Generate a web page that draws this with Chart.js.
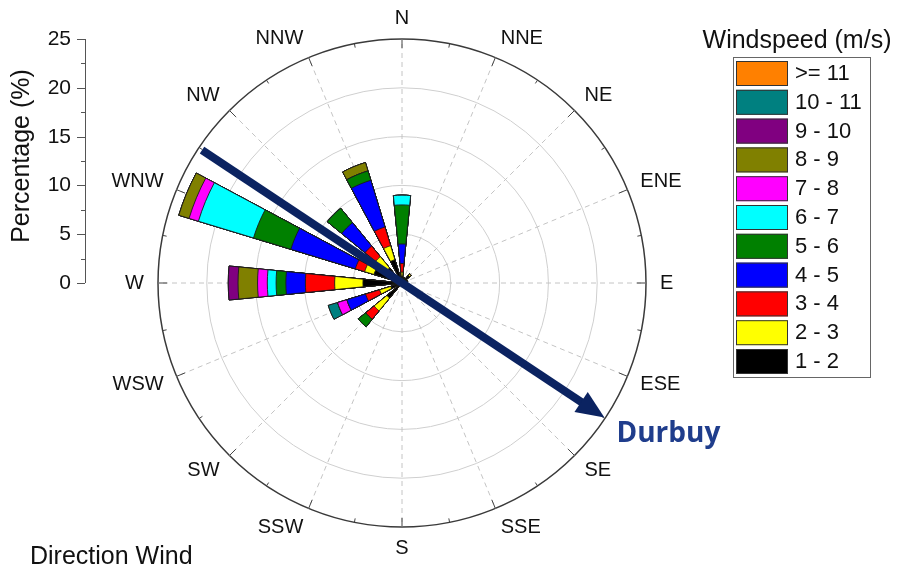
<!DOCTYPE html>
<html>
<head>
<meta charset="utf-8">
<title>Wind rose - Durbuy</title>
<script src="https://cdn.jsdelivr.net/npm/chart.js@4.4.1/dist/chart.umd.min.js"></script>
<style>
  html, body { margin: 0; padding: 0; background: #fff; }
  #wrap { position: relative; width: 903px; height: 571px; }
</style>
</head>
<body>
<div id="wrap"><canvas id="rose" width="903" height="571"></canvas></div>
<script>
const directions = ['N', 'NNE', 'NE', 'ENE', 'E', 'ESE', 'SE', 'SSE', 'S', 'SSW', 'SW', 'WSW', 'W', 'WNW', 'NW', 'NNW'];
const speedLabels = ['1 - 2', '2 - 3', '3 - 4', '4 - 5', '5 - 6', '6 - 7', '7 - 8', '8 - 9', '9 - 10', '10 - 11', '>= 11'];
const speedColors = ['#000000', '#FFFF00', '#FF0000', '#0000FF', '#008000', '#00FFFF', '#FF00FF', '#808000', '#800080', '#008080', '#FF8000'];
const radialTicks = [0, 5, 10, 15, 20, 25];

// frequency (%) per direction for each wind speed class
//                 N    NNE  NE   ENE  E    ESE  SE   SSE  S    SSW  SW   WSW  W    WNW  NW   NNW
const ws1to2   = [0.7, 0.6, 1.0, 0.6, 0,   0,   0,   0,   0,   0,   2.0, 1.2, 4.0, 3.0, 2.0, 2.5];
const ws2to3   = [0.4, 0,   0.2, 0,   0,   0,   0,   0,   0,   0,   1.7, 1.2, 2.9, 1.0, 1.5, 1.5];
const ws3to4   = [0.9, 0,   0,   0,   0,   0,   0,   0,   0,   0,   1.1, 1.5, 3.0, 1.0, 1.4, 2.0];
const ws4to5   = [2.0, 0,   0,   0,   0,   0,   0,   0,   0,   0,   0,   2.0, 2.0, 6.9, 3.1, 5.0];
const ws5to6   = [4.0, 0,   0,   0,   0,   0,   0,   0,   0,   0,   1.0, 0,   1.0, 4.0, 1.9, 1.0];
const ws6to7   = [1.0, 0,   0,   0,   0,   0,   0,   0,   0,   0,   0,   0,   0.9, 5.9, 0,   0];
const ws7to8   = [0,   0,   0,   0,   0,   0,   0,   0,   0,   0,   0,   1.0, 1.0, 1.0, 0,   0];
const ws8to9   = [0,   0,   0,   0,   0,   0,   0,   0,   0,   0,   0,   0,   2.0, 1.1, 0,   0.9];
const ws9to10  = [0,   0,   0,   0,   0,   0,   0,   0,   0,   0,   0,   0,   1.0, 0,   0,   0];
const ws10to11 = [0,   0,   0,   0,   0,   0,   0,   0,   0,   0,   0,   1.0, 0,   0,   0,   0];
const ws11plus = [0,   0,   0,   0,   0,   0,   0,   0,   0,   0,   0,   0,   0,   0,   0,   0];

// site direction marker (bearing in degrees, extent in % on each side)
const siteName = 'Durbuy';
const siteBearing = 123.6;
const siteTail = 24.6;
const siteHead = 24.9;

const speedSeries = [ws1to2, ws2to3, ws3to4, ws4to5, ws5to6, ws6to7, ws7to8, ws8to9, ws9to10, ws10to11, ws11plus];

// each direction gets a wedge followed by an empty slot of the same width
const slotLabels = directions.flatMap(d => [d, '']);
const cumulative = speedSeries.map((_, k) => directions.flatMap((d, i) => {
    let total = 0;
    for (let j = 0; j <= k; j++) total += speedSeries[j][i];
    return [Math.round(total * 100) / 100, 0];
}));

const FONT = '"Liberation Sans", Arial, sans-serif';
const slotAngle = 360 / slotLabels.length;

// bearing (deg, clockwise from north) + distance (px) -> canvas point
const polarPoint = (r, bearing, dist) => {
    const a = bearing * Math.PI / 180;
    return { x: r.xCenter + Math.sin(a) * dist, y: r.yCenter - Math.cos(a) * dist };
};

const roseDecor = {
    id: 'roseDecor',
    beforeDatasetsDraw(chart) {
        const { ctx } = chart;
        const r = chart.scales.r;
        const R = r.getDistanceFromCenterForValue(r.max);
        ctx.save();
        // dashed spokes
        ctx.strokeStyle = '#c4c4c4';
        ctx.lineWidth = 1;
        ctx.setLineDash([5, 4]);
        directions.forEach((d, i) => {
            const p = polarPoint(r, i * 22.5, R);
            ctx.beginPath();
            ctx.moveTo(r.xCenter, r.yCenter);
            ctx.lineTo(p.x, p.y);
            ctx.stroke();
        });
        ctx.setLineDash([]);
        // ticks on the outer ring
        ctx.strokeStyle = '#444';
        for (let i = 0; i < 32; i++) {
            const len = i % 2 === 0 ? 9 : 4;
            const p1 = polarPoint(r, i * 11.25, R);
            const p2 = polarPoint(r, i * 11.25, R - len);
            ctx.beginPath();
            ctx.moveTo(p1.x, p1.y);
            ctx.lineTo(p2.x, p2.y);
            ctx.stroke();
        }
        ctx.restore();
    },
    afterDraw(chart) {
        const { ctx } = chart;
        const r = chart.scales.r;
        const R = r.getDistanceFromCenterForValue(r.max);
        ctx.save();

        // site arrow
        const tail = polarPoint(r, siteBearing + 180, r.getDistanceFromCenterForValue(siteTail));
        const tip = polarPoint(r, siteBearing, r.getDistanceFromCenterForValue(siteHead));
        const ang = Math.atan2(tip.y - tail.y, tip.x - tail.x);
        const headLen = 28, headHalf = 12;
        const bx = tip.x - Math.cos(ang) * headLen, by = tip.y - Math.sin(ang) * headLen;
        ctx.strokeStyle = '#0b2361';
        ctx.fillStyle = '#0b2361';
        ctx.lineWidth = 8;
        ctx.beginPath();
        ctx.moveTo(tail.x, tail.y);
        ctx.lineTo(bx + Math.cos(ang) * 4, by + Math.sin(ang) * 4);
        ctx.stroke();
        ctx.beginPath();
        ctx.moveTo(tip.x, tip.y);
        ctx.lineTo(bx - Math.sin(ang) * headHalf, by + Math.cos(ang) * headHalf);
        ctx.lineTo(bx + Math.sin(ang) * headHalf, by - Math.cos(ang) * headHalf);
        ctx.closePath();
        ctx.fill();

        ctx.fillStyle = '#1f3d8c';
        ctx.font = 'bold 28px "Open Sans", sans-serif';
        ctx.textAlign = 'left';
        ctx.textBaseline = 'alphabetic';
        ctx.fillText(siteName, tip.x + 12, tip.y + 25);

        // compass labels
        ctx.fillStyle = '#111';
        ctx.font = '20px ' + FONT;
        ctx.textBaseline = 'middle';
        directions.forEach((d, i) => {
            const b = i * 22.5;
            const s = Math.sin(b * Math.PI / 180), c = Math.cos(b * Math.PI / 180);
            const p = polarPoint(r, b, R + 14);
            ctx.textAlign = Math.abs(s) < 0.01 ? 'center' : (s > 0 ? 'left' : 'right');
            ctx.fillText(d, p.x, p.y - c * 7);
        });

        // percentage axis on the left
        const ax = 85;
        const yFor = v => r.yCenter - r.getDistanceFromCenterForValue(v);
        ctx.strokeStyle = '#555';
        ctx.lineWidth = 1;
        ctx.beginPath();
        ctx.moveTo(ax + 0.5, yFor(0));
        ctx.lineTo(ax + 0.5, yFor(r.max));
        ctx.stroke();
        ctx.textAlign = 'right';
        ctx.font = '21px ' + FONT;
        radialTicks.forEach(v => {
            const y = Math.round(yFor(v)) + 0.5;
            ctx.beginPath();
            ctx.moveTo(ax - 8, y);
            ctx.lineTo(ax, y);
            ctx.stroke();
            ctx.fillText(String(v), ax - 14, y);
            if (v < r.max) {
                const ym = Math.round(yFor(v + 2.5)) + 0.5;
                ctx.beginPath();
                ctx.moveTo(ax - 4, ym);
                ctx.lineTo(ax, ym);
                ctx.stroke();
            }
        });
        ctx.save();
        ctx.translate(22, (yFor(0) + yFor(r.max)) / 2 - 5);
        ctx.rotate(-Math.PI / 2);
        ctx.textAlign = 'center';
        ctx.font = '25px ' + FONT;
        ctx.fillText('Percentage (%)', 0, 0);
        ctx.restore();

        ctx.textAlign = 'left';
        ctx.font = '25px ' + FONT;
        ctx.fillText('Direction Wind', 30, 557);

        // legend
        const lx = 733, ly = 57, lw = 137, lh = 320;
        ctx.font = '25px ' + FONT;
        ctx.textAlign = 'center';
        ctx.fillText('Windspeed (m/s)', 797, 41);
        ctx.strokeStyle = '#666';
        ctx.strokeRect(lx + 0.5, ly + 0.5, lw, lh);
        ctx.font = '22px ' + FONT;
        ctx.textAlign = 'left';
        const items = chart.data.datasets.slice().reverse();
        items.forEach((ds, k) => {
            const y = 61 + k * 28.8;
            ctx.fillStyle = ds.backgroundColor;
            ctx.fillRect(736, y, 52, 25);
            ctx.strokeStyle = '#333';
            ctx.strokeRect(736.5, y + 0.5, 51, 24);
            ctx.fillStyle = '#111';
            ctx.fillText(ds.label, 795, y + 13);
        });
        ctx.restore();
    }
};

new Chart(document.getElementById('rose'), {
    type: 'polarArea',
    data: {
        labels: slotLabels,
        datasets: cumulative.map((data, k) => ({
            label: speedLabels[k],
            data,
            backgroundColor: speedColors[k],
            borderColor: '#1a1a1a',
            borderWidth: ctx => (ctx.raw > 0 ? 0.9 : 0)
        }))
    },
    options: {
        responsive: false,
        animation: false,
        events: [],
        layout: { padding: { left: 158, right: 257, top: 39, bottom: 44 } },
        plugins: {
            legend: { display: false },
            tooltip: { enabled: false }
        },
        scales: {
            r: {
                min: 0,
                max: 25,
                startAngle: -slotAngle / 2,
                ticks: { display: false, stepSize: 5 },
                grid: {
                    circular: true,
                    color: ctx => (ctx.tick.value === 25 ? '#3a3a3a' : '#cfcfcf'),
                    lineWidth: ctx => (ctx.tick.value === 25 ? 1.5 : 1)
                },
                angleLines: { display: false },
                pointLabels: { display: false }
            }
        }
    },
    plugins: [roseDecor]
});
</script>
</body>
</html>
